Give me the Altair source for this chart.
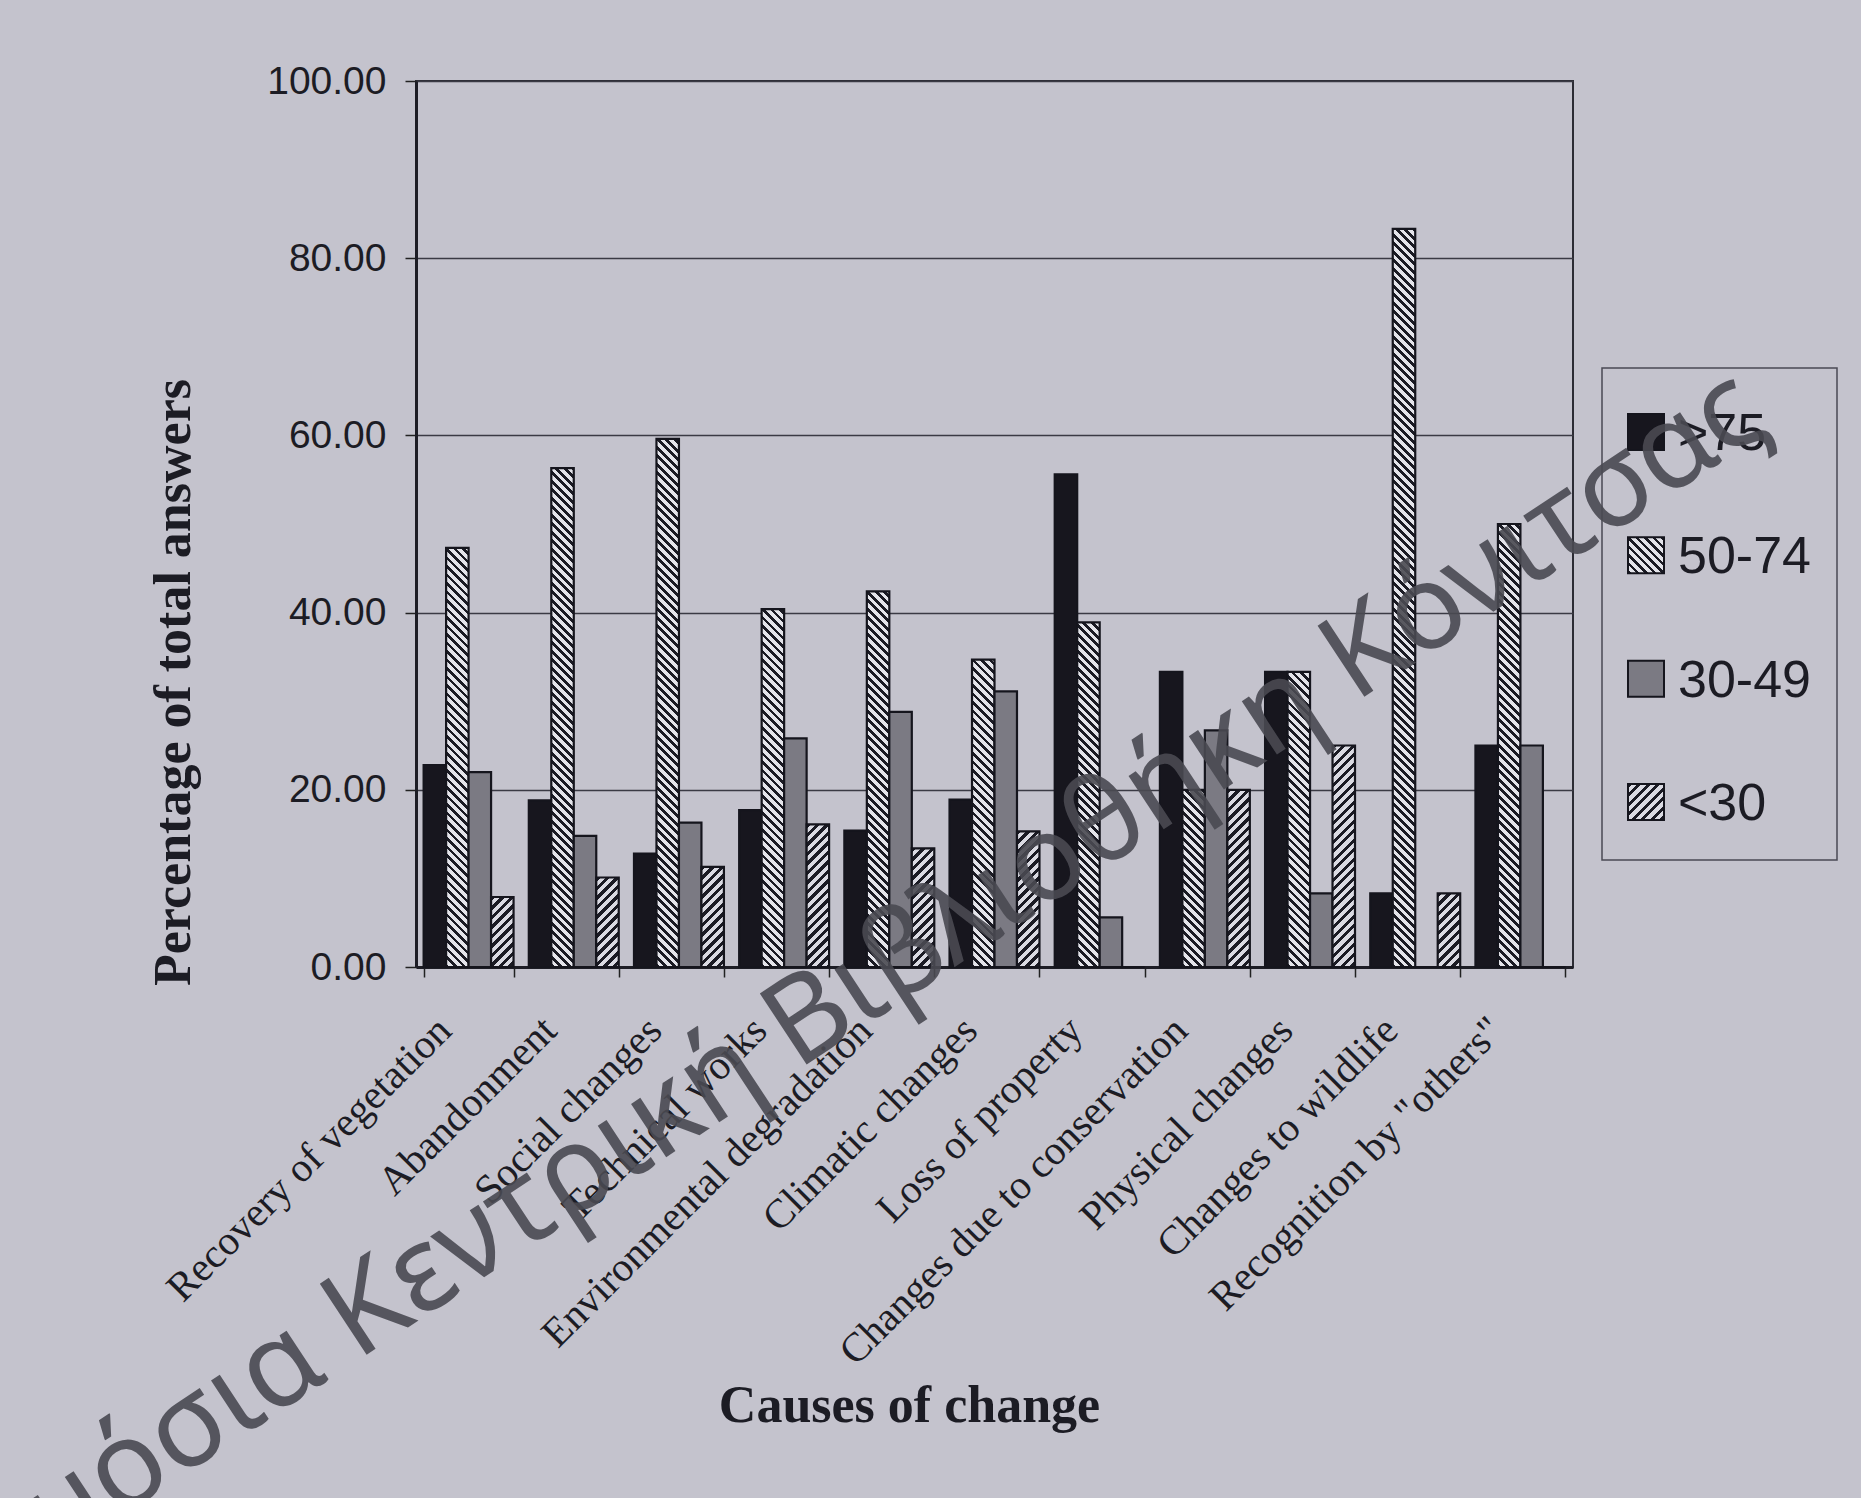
import altair as alt
import pandas as pd

# ---------------- data ----------------
causes = [
    "Recovery of vegetation",
    "Abandonment",
    "Social changes",
    "Technical works",
    "Environmental degradation",
    "Climatic changes",
    "Loss of property",
    "Changes due to conservation",
    "Physical changes",
    "Changes to wildlife",
    'Recognition by "others"',
]
groups = [">75", "50-74", "30-49", "<30"]
v_gt75 = [22.8, 18.8, 12.8, 17.7, 15.4, 18.9, 55.6, 33.3, 33.3, 8.3, 25.0]
v_50_74 = [47.3, 56.3, 59.6, 40.4, 42.4, 34.7, 38.9, 20.0, 33.3, 83.3, 50.0]
v_30_49 = [22.0, 14.8, 16.3, 25.8, 28.8, 31.1, 5.6, 26.7, 8.3, 0.0, 25.0]
v_lt30 = [7.9, 10.1, 11.3, 16.1, 13.4, 15.3, 0.0, 20.0, 25.0, 8.3, 0.0]
y_ticks = [0, 20, 40, 60, 80, 100]
watermark_a = "Δημόσια"
watermark_b = "Κεντρική Βιβλιοθήκη Κόνιτσας"

# ---------------- geometry / style ----------------
PLOT_L, PLOT_T = 416, 81
PLOT_W, PLOT_H = 1157, 886
CANVAS_W, CANVAS_H = 1861, 1498
PAD_INNER, PAD_OUTER = 0.145, 0.0725
BAR_W = PLOT_W / 11 * (1 - PAD_INNER) / 4

BG = "#c4c3cd"
INK = "#1c1c24"
BLACK = "#17161e"
GRAY = "#7b7a83"
DARK_STRIPE = "#1b1b24"
LIGHT_A = "#e4e4ea"
LIGHT_B = "#dadae2"


def hatch(w, h, direction, period, duty, dark, light):
    """Diagonal stripes as a linear gradient in bounding-box units."""
    L = w + h
    s = L / (w * w + h * h)
    stops = []
    k = 0
    while k * period < L:
        a = k * period / L
        b = min((k * period + duty * period) / L, 1.0)
        c = min((k + 1) * period / L, 1.0)
        stops += [
            {"offset": round(a, 5), "color": dark},
            {"offset": round(b, 5), "color": dark},
            {"offset": round(b, 5), "color": light},
            {"offset": round(c, 5), "color": light},
        ]
        k += 1
    if direction == "back":  # "\" stripes
        return {"gradient": "linear", "x1": 0, "y1": 1,
                "x2": round(w * s, 6), "y2": round(1 - h * s, 6), "stops": stops}
    return {"gradient": "linear", "x1": 0, "y1": 0,
            "x2": round(w * s, 6), "y2": round(h * s, 6), "stops": stops}


def hatch_a(w, h):
    return hatch(w, h, "back", 8.5, 0.45, DARK_STRIPE, LIGHT_A)


def hatch_b(w, h):
    return hatch(w, h, "fwd", 9.5, 0.47, DARK_STRIPE, LIGHT_B)


rows = []
series = [v_gt75, v_50_74, v_30_49, v_lt30]
for i, c in enumerate(causes):
    for j, g in enumerate(groups):
        rows.append({"cause": c, "group": g, "value": series[j][i], "key": i * 4 + j})
df = pd.DataFrame(rows)

conds = []
for r in rows:
    if r["value"] <= 0:
        continue
    hpx = r["value"] / 100 * PLOT_H
    if r["group"] == "50-74":
        conds.append({"test": f"datum.key === {r['key']}", "value": hatch_a(BAR_W, hpx)})
    elif r["group"] == "<30":
        conds.append({"test": f"datum.key === {r['key']}", "value": hatch_b(BAR_W, hpx)})

bars = alt.Chart(df).mark_bar(stroke="#15151d", strokeWidth=2.2, opacity=1).encode(
    x=alt.X(
        "cause:N",
        sort=causes,
        scale=alt.Scale(paddingInner=PAD_INNER, paddingOuter=PAD_OUTER),
        axis=alt.Axis(
            title="Causes of change",
            labelAngle=-45,
            labelAlign="right",
            labelBaseline="middle",
            labelFont="Liberation Serif",
            labelFontSize=41,
            labelColor=INK,
            labelPadding=47,
            labelOffset=-24,
            labelLimit=0,
            tickBand="extent",
            tickSize=10,
            tickColor="#222",
            tickWidth=1.5,
            domainColor="#1d1d25",
            domainWidth=3,
            titleFont="Liberation Serif",
            titleFontSize=52,
            titleFontWeight="bold",
            titleColor=INK,
            titleX=493,
            titleY=454,
            titleAlign="center",
            titleBaseline="alphabetic",
        ),
    ),
    xOffset=alt.XOffset("group:N", sort=groups,
                        scale=alt.Scale(paddingInner=0, paddingOuter=0)),
    y=alt.Y(
        "value:Q",
        scale=alt.Scale(domain=[0, 100], nice=False),
        axis=alt.Axis(
            title="Percentage of total answers",
            values=y_ticks,
            format=".2f",
            labelFont="Liberation Sans",
            labelFontSize=39,
            labelColor=INK,
            labelPadding=19,
            tickSize=11,
            tickColor="#222",
            tickWidth=1.5,
            domainColor="#1d1d25",
            domainWidth=3,
            grid=True,
            gridColor="#3a3a44",
            gridWidth=1.3,
            titleFont="Liberation Serif",
            titleFontSize=52,
            titleFontWeight="bold",
            titleColor=INK,
            titleX=-216,
            titleY=601,
            titleAngle=270,
            titleAlign="center",
            titleBaseline="bottom",
        ),
    ),
    fill=alt.Fill(
        "group:N",
        sort=groups,
        scale=alt.Scale(domain=groups, range=[BLACK, "#9a9aa2", GRAY, "#8e8e96"]),
        legend=None,
        condition=conds,
    ),
)

# ---------------- legend (built from the group list) ----------------
LEG_X, LEG_Y, LEG_W, LEG_H = 1186, 287, 235, 492
SYM = 36
leg_df = pd.DataFrame({"group": groups})
box_df = pd.DataFrame({"b": [1]})
leg_y = alt.Y("group:N", sort=groups,
              scale=alt.Scale(type="point", range=[351, 721], padding=0), axis=None)

leg_box = alt.Chart(box_df).mark_rect(fillOpacity=0, stroke="#4a4a54", strokeWidth=1.5).encode(
    x=alt.value(LEG_X), x2=alt.value(LEG_X + LEG_W),
    y=alt.value(LEG_Y), y2=alt.value(LEG_Y + LEG_H))

sym_fill = alt.value(
    hatch_b(SYM, SYM),
    condition=[
        {"test": "datum.group === '>75'", "value": BLACK},
        {"test": "datum.group === '50-74'", "value": hatch_a(SYM, SYM)},
        {"test": "datum.group === '30-49'", "value": GRAY},
    ],
)
leg_sym = alt.Chart(leg_df).mark_square(size=SYM * SYM, stroke="#15151d", strokeWidth=2,
                                         opacity=1).encode(
    x=alt.value(1230), y=leg_y, fill=sym_fill)
leg_txt = alt.Chart(leg_df).mark_text(align="left", baseline="middle", font="Liberation Sans",
                                       fontSize=52, color=INK, dy=2).encode(
    x=alt.value(1262), y=leg_y, text="group:N")

# ---------------- scan watermark ----------------
wm_df = pd.DataFrame({"a": [watermark_a], "b": [watermark_b]})
wm_style = dict(font="Noto Sans", fontSize=119, angle=326.6, baseline="alphabetic",
                color="#4a4a52", opacity=0.9)
wm1 = alt.Chart(wm_df).mark_text(align="right", **wm_style).encode(
    text="a:N", x=alt.value(-85), y=alt.value(1297))
wm2 = alt.Chart(wm_df).mark_text(align="left", **wm_style).encode(
    text="b:N", x=alt.value(-59), y=alt.value(1280))

chart = alt.layer(bars, leg_box, leg_sym, leg_txt, wm1, wm2).resolve_scale(
    y="independent"
).properties(
    width=PLOT_W,
    height=PLOT_H,
    autosize=alt.AutoSizeParams(type="none"),
    padding={"left": PLOT_L, "top": PLOT_T,
             "right": CANVAS_W - PLOT_L - PLOT_W, "bottom": CANVAS_H - PLOT_T - PLOT_H},
).configure(background=BG).configure_view(stroke="#2c2c34", strokeWidth=2)

chart.save("out.html", embed_options={"renderer": "svg", "actions": False})
